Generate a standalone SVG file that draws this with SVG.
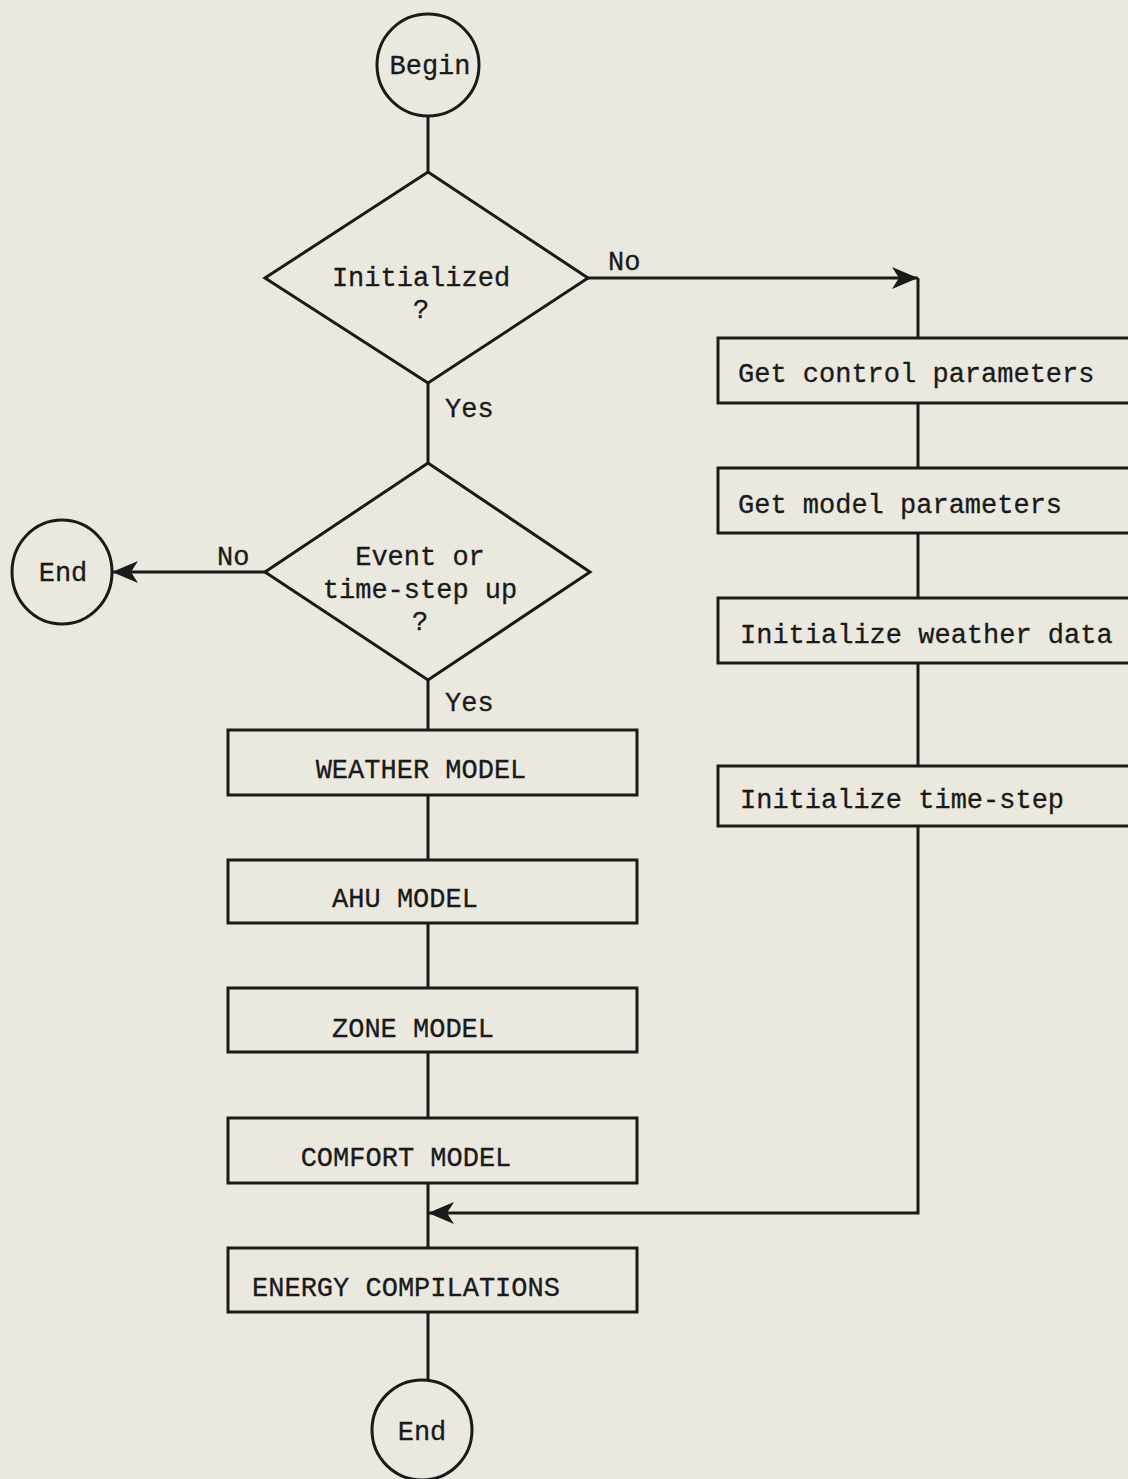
<svg xmlns="http://www.w3.org/2000/svg" width="1128" height="1479" viewBox="0 0 1128 1479">
<defs>
<marker id="arr" viewBox="0 0 26 22" refX="26" refY="11" markerWidth="26" markerHeight="22" markerUnits="userSpaceOnUse" orient="auto">
<path d="M0,0 L26,11 L0,22 L7,11 Z" fill="#1a1a1a"/>
</marker>
</defs>
<style>
.bg{fill:#ebe8df}
.s{fill:none;stroke:#1a1a1a;stroke-width:3}
.b{fill:#ebe8df;stroke:#1a1a1a;stroke-width:3}
.t{font-family:"Liberation Mono","Courier New",monospace;font-size:27px;fill:#1a1a1a;stroke:#1a1a1a;stroke-width:0.3}
.m{text-anchor:middle}
</style>
<rect class="bg" x="0" y="0" width="1128" height="1479"/>
<g id="connectors">
<line class="s" x1="428" y1="117" x2="428" y2="172"/>
<line class="s" x1="428" y1="383" x2="428" y2="463"/>
<path class="s" d="M588,278 L918,278" marker-end="url(#arr)"/>
<line class="s" x1="918" y1="278" x2="918" y2="338"/>
<line class="s" x1="918" y1="403" x2="918" y2="468"/>
<line class="s" x1="918" y1="533" x2="918" y2="598"/>
<line class="s" x1="918" y1="663" x2="918" y2="766"/>
<path class="s" d="M918,826 L918,1213 L428,1213" marker-end="url(#arr)"/>
<path class="s" d="M265,572 L112,572" marker-end="url(#arr)"/>
<line class="s" x1="428" y1="680" x2="428" y2="730"/>
<line class="s" x1="428" y1="795" x2="428" y2="860"/>
<line class="s" x1="428" y1="923" x2="428" y2="988"/>
<line class="s" x1="428" y1="1052" x2="428" y2="1118"/>
<line class="s" x1="428" y1="1183" x2="428" y2="1248"/>
<line class="s" x1="428" y1="1312" x2="428" y2="1380"/>
<text class="t" x="608" y="270">No</text>
<text class="t" x="445" y="417">Yes</text>
<text class="t" x="217" y="565">No</text>
<text class="t" x="445" y="711">Yes</text>
</g>
<g id="begin">
<circle class="b" cx="428" cy="65" r="51"/>
<text class="t m" x="430" y="74">Begin</text>
</g>
<g id="initialized">
<polygon class="b" points="428,172 588,278 428,383 265,278"/>
<text class="t m" x="421" y="286">Initialized</text>
<text class="t m" x="421" y="318">?</text>
</g>
<g id="event">
<polygon class="b" points="428,463 590,572 428,680 265,572"/>
<text class="t m" x="420" y="565">Event or</text>
<text class="t m" x="420" y="598">time-step up</text>
<text class="t m" x="420" y="630">?</text>
</g>
<g id="end-left">
<ellipse class="b" cx="62" cy="572" rx="50" ry="52"/>
<text class="t m" x="63" y="581">End</text>
</g>
<g id="control">
<rect class="b" x="718" y="338" width="430" height="65"/>
<text class="t" x="738" y="382">Get control parameters</text>
</g>
<g id="model">
<rect class="b" x="718" y="468" width="430" height="65"/>
<text class="t" x="738" y="513">Get model parameters</text>
</g>
<g id="weatherdata">
<rect class="b" x="718" y="598" width="430" height="65"/>
<text class="t" x="740" y="643">Initialize weather data</text>
</g>
<g id="timestep">
<rect class="b" x="718" y="766" width="430" height="60"/>
<text class="t" x="740" y="808">Initialize time-step</text>
</g>
<g id="weather">
<rect class="b" x="228" y="730" width="409" height="65"/>
<text class="t m" x="421" y="778">WEATHER MODEL</text>
</g>
<g id="ahu">
<rect class="b" x="228" y="860" width="409" height="63"/>
<text class="t m" x="405" y="907">AHU MODEL</text>
</g>
<g id="zone">
<rect class="b" x="228" y="988" width="409" height="64"/>
<text class="t m" x="413" y="1037">ZONE MODEL</text>
</g>
<g id="comfort">
<rect class="b" x="228" y="1118" width="409" height="65"/>
<text class="t m" x="406" y="1166">COMFORT MODEL</text>
</g>
<g id="energy">
<rect class="b" x="228" y="1248" width="409" height="64"/>
<text class="t m" x="406" y="1296">ENERGY COMPILATIONS</text>
</g>
<g id="end-bottom">
<ellipse class="b" cx="422" cy="1430" rx="50" ry="50"/>
<text class="t m" x="422" y="1440">End</text>
</g>
</svg>
